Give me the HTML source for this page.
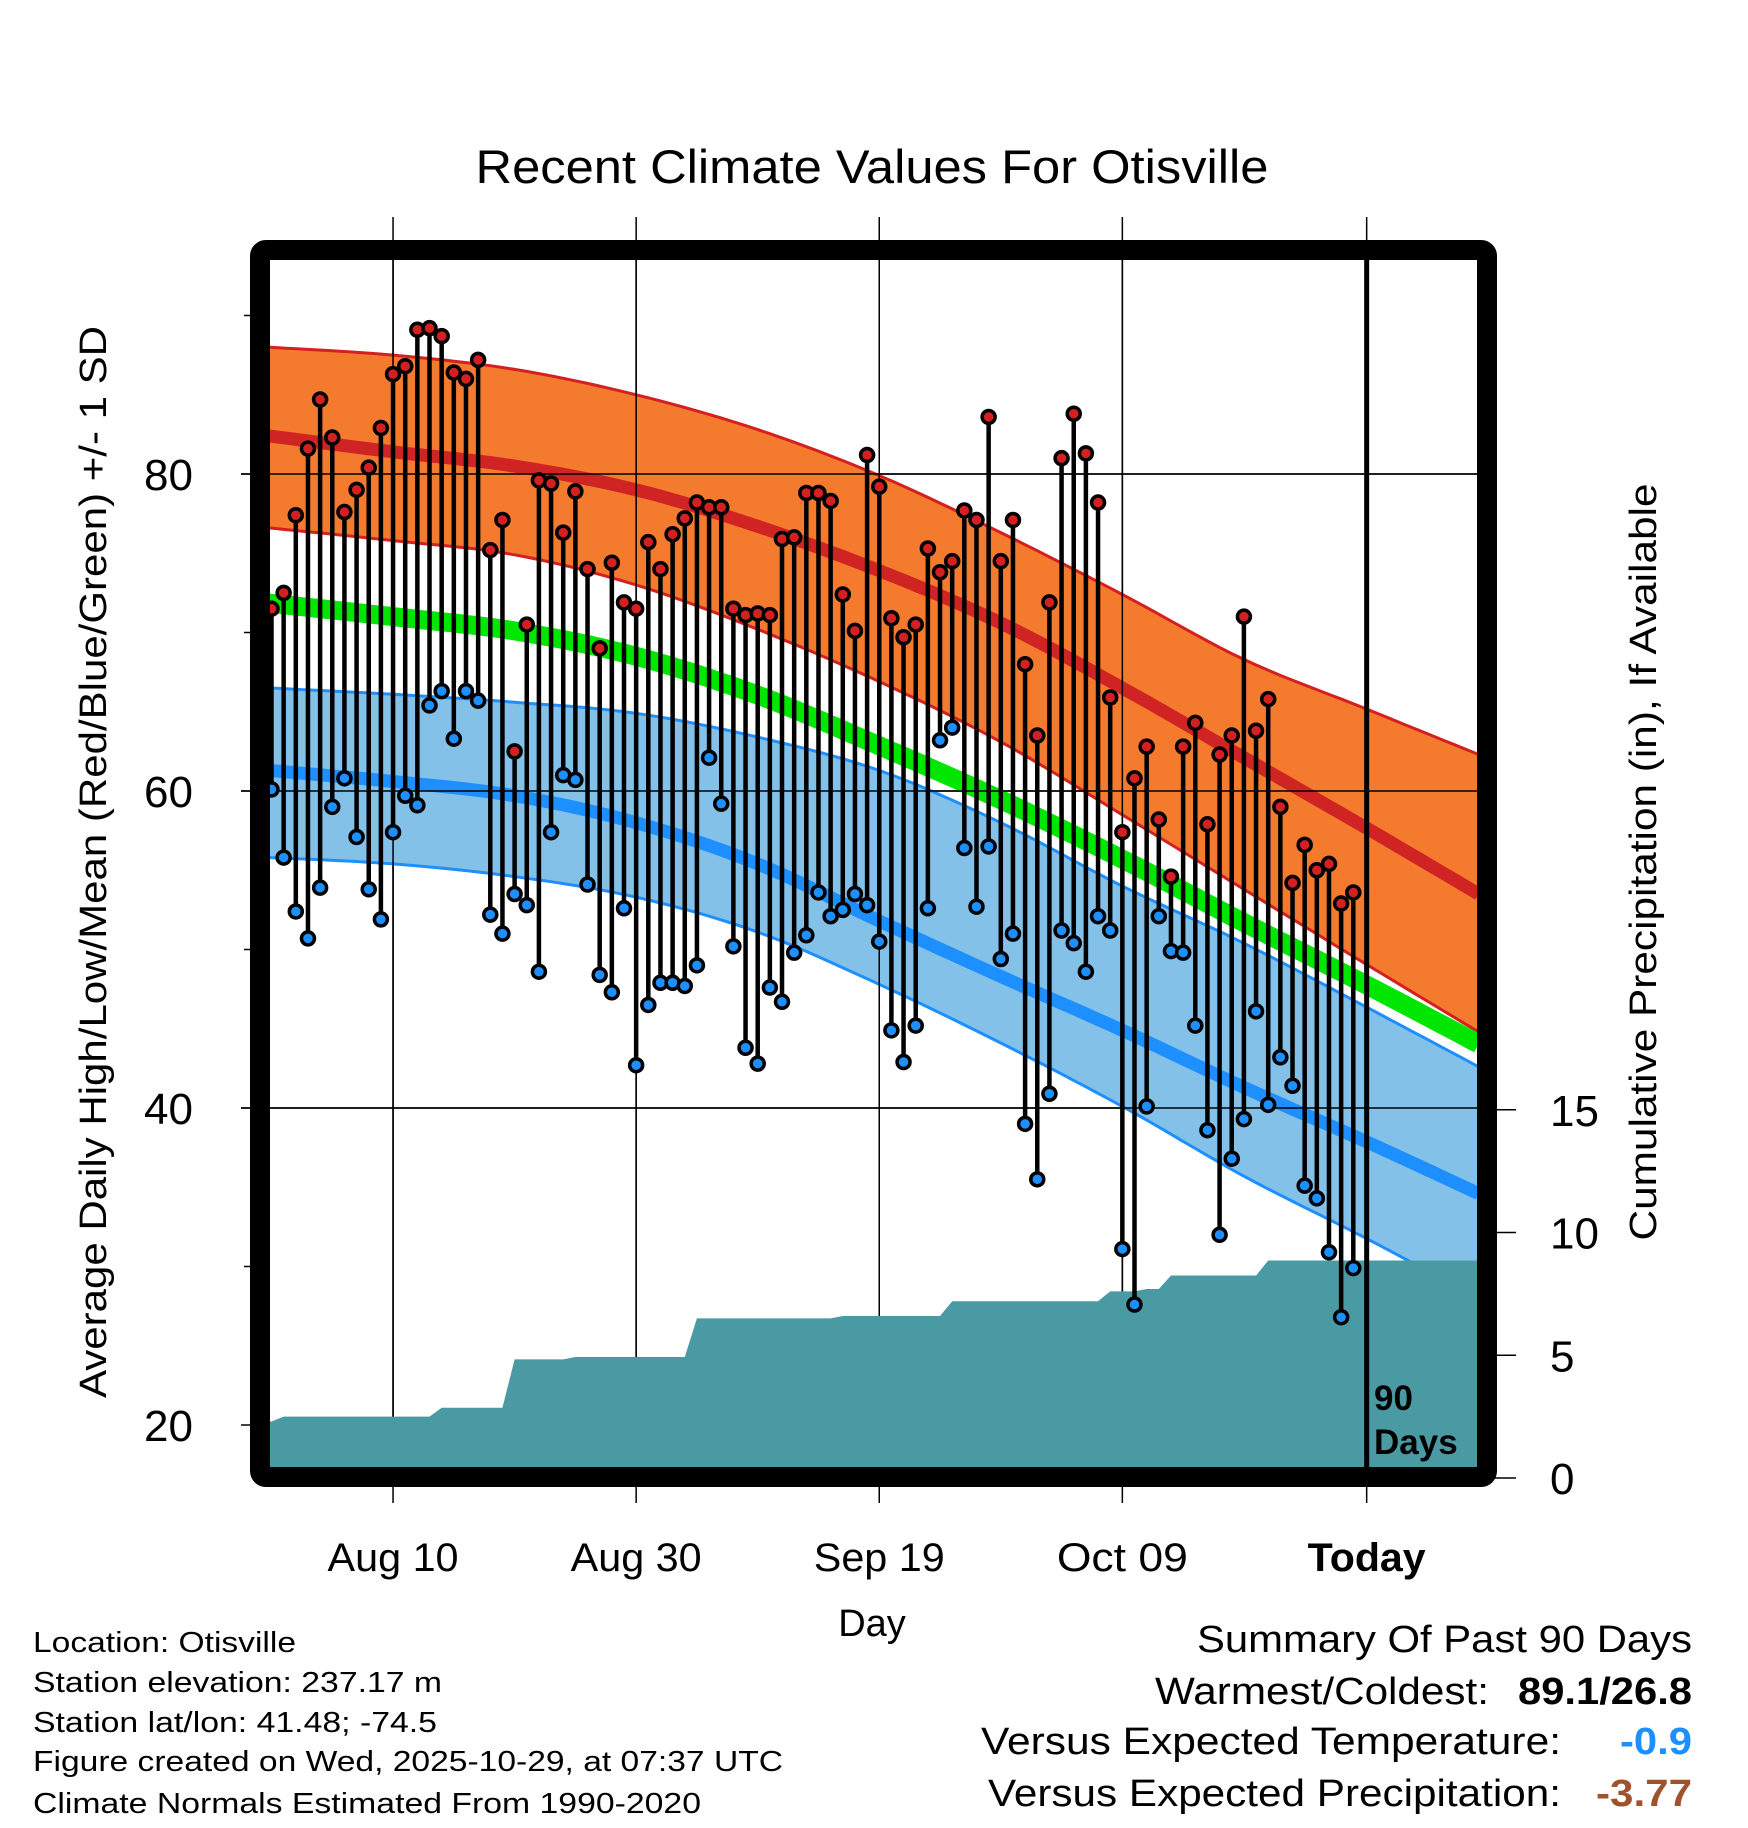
<!DOCTYPE html>
<html><head><meta charset="utf-8"><style>
html,body{margin:0;padding:0;background:#fff;}
svg{display:block;font-family:"Liberation Sans",sans-serif;}
</style></head><body>
<svg id="chart" width="1748" height="1828" viewBox="0 0 1748 1828" xmlns="http://www.w3.org/2000/svg">
<defs><clipPath id="plotclip"><rect x="270" y="260" width="1207" height="1207"/></clipPath></defs>
<rect width="1748" height="1828" fill="#fff"/>
<text x="872" y="183" font-size="47" text-anchor="middle" textLength="793" lengthAdjust="spacingAndGlyphs">Recent Climate Values For Otisville</text>
<g id="grid"></g>
<g id="plot" clip-path="url(#plotclip)"></g>
<g id="axes"></g>
<text transform="translate(106,862) rotate(-90)" font-size="38" text-anchor="middle" textLength="1072" lengthAdjust="spacingAndGlyphs">Average Daily High/Low/Mean (Red/Blue/Green) +/- 1 SD</text>
<text transform="translate(1656,862) rotate(-90)" font-size="38" text-anchor="middle" textLength="757" lengthAdjust="spacingAndGlyphs">Cumulative Precipitation (in), If Available</text>
<text x="872" y="1636" font-size="38" text-anchor="middle">Day</text>
<g font-size="29">
<text x="33" y="1652" textLength="263" lengthAdjust="spacingAndGlyphs">Location: Otisville</text>
<text x="33" y="1692" textLength="409" lengthAdjust="spacingAndGlyphs">Station elevation: 237.17 m</text>
<text x="33" y="1732" textLength="404" lengthAdjust="spacingAndGlyphs">Station lat/lon: 41.48; -74.5</text>
<text x="33" y="1771" textLength="750" lengthAdjust="spacingAndGlyphs">Figure created on Wed, 2025-10-29, at 07:37 UTC</text>
<text x="33" y="1813" textLength="668" lengthAdjust="spacingAndGlyphs">Climate Normals Estimated From 1990-2020</text>
</g>
<g font-size="38">
<text x="1692" y="1652" text-anchor="end" textLength="495" lengthAdjust="spacingAndGlyphs">Summary Of Past 90 Days</text>
<text x="1489" y="1704" text-anchor="end" textLength="334" lengthAdjust="spacingAndGlyphs">Warmest/Coldest:</text>
<text x="1692" y="1704" text-anchor="end" font-weight="bold" textLength="174" lengthAdjust="spacingAndGlyphs">89.1/26.8</text>
<text x="1561" y="1754" text-anchor="end" textLength="580" lengthAdjust="spacingAndGlyphs">Versus Expected Temperature:</text>
<text x="1692" y="1754" text-anchor="end" font-weight="bold" fill="#1e8fff" textLength="72" lengthAdjust="spacingAndGlyphs">-0.9</text>
<text x="1561" y="1806" text-anchor="end" textLength="573" lengthAdjust="spacingAndGlyphs">Versus Expected Precipitation:</text>
<text x="1692" y="1806" text-anchor="end" font-weight="bold" fill="#a0522d" textLength="96" lengthAdjust="spacingAndGlyphs">-3.77</text>
</g>
</svg>
<script>
const highs=[71.5,72.5,77.4,81.6,84.7,82.3,77.6,79.0,80.4,82.9,86.3,86.8,89.1,89.2,88.7,86.4,86.0,87.2,75.2,77.1,62.5,70.5,79.6,79.4,76.3,78.9,74.0,69.0,74.4,71.9,71.5,75.7,74.0,76.2,77.2,78.2,77.9,77.9,71.5,71.1,71.2,71.1,75.9,76.0,78.8,78.8,78.3,72.4,70.1,81.2,79.2,70.9,69.7,70.5,75.3,73.8,74.5,77.7,77.1,83.6,74.5,77.1,68.0,63.5,71.9,81.0,83.8,81.3,78.2,65.9,57.4,60.8,62.8,58.2,54.6,62.8,64.3,57.9,62.3,63.5,71.0,63.8,65.8,59.0,54.2,56.6,55.0,55.4,52.9,53.6];
const lows=[60.1,55.8,52.4,50.7,53.9,59.0,60.8,57.1,53.8,51.9,57.4,59.7,59.1,65.4,66.3,63.3,66.3,65.7,52.2,51.0,53.5,52.8,48.6,57.4,61.0,60.7,54.1,48.4,47.3,52.6,42.7,46.5,47.9,47.9,47.7,49.0,62.1,59.2,50.2,43.8,42.8,47.6,46.7,49.8,50.9,53.6,52.1,52.5,53.5,52.8,50.5,44.9,42.9,45.2,52.6,63.2,64.0,56.4,52.7,56.5,49.4,51.0,39.0,35.5,40.9,51.2,50.4,48.6,52.1,51.2,31.1,27.6,40.1,52.1,49.9,49.8,45.2,38.6,32.0,36.8,39.3,46.1,40.2,43.2,41.4,35.1,34.3,30.9,26.8,29.9];
const precip=[2.3,2.5,2.5,2.5,2.5,2.5,2.5,2.5,2.5,2.5,2.5,2.5,2.5,2.5,2.86,2.86,2.86,2.86,2.86,2.86,4.83,4.83,4.83,4.83,4.83,4.93,4.93,4.93,4.93,4.93,4.93,4.93,4.93,4.93,4.93,6.5,6.5,6.5,6.5,6.5,6.5,6.5,6.5,6.5,6.5,6.5,6.5,6.6,6.6,6.6,6.6,6.6,6.6,6.6,6.6,6.6,7.2,7.2,7.2,7.2,7.2,7.2,7.2,7.2,7.2,7.2,7.2,7.2,7.2,7.6,7.6,7.6,7.7,7.7,8.25,8.25,8.25,8.25,8.25,8.25,8.25,8.25,8.86,8.86,8.86,8.86,8.86,8.86,8.86,8.86];
const normDays=[-0.2,10,20,30,40,50,60,70,80,90,99.3];
const normHigh=[82.4,81.4,80.5,79.0,76.7,73.9,70.6,66.5,62.1,57.7,53.5];
const normHighUp=[88.0,87.5,86.6,85.0,82.8,79.9,76.3,72.4,68.3,65.2,62.3];
const normHighLo=[76.6,75.8,74.9,73.0,70.2,66.9,63.1,58.5,53.8,49.1,44.8];
const normLow=[61.3,60.6,59.7,58.0,55.4,51.8,48.3,44.9,41.3,37.9,34.6];
const normLowUp=[66.5,66.1,65.6,64.9,63.4,61.3,58.0,54.0,50.4,46.4,42.6];
const normLowLo=[55.8,55.4,54.6,53.3,51.1,47.8,44.1,40.1,35.7,31.8,28.0];
const xTickDays=[10,30,50,70,90.1];
const xTickLabels=["Aug 10","Aug 30","Sep 19","Oct 09","Today"];
const yTicks=[80,60,40,20];
const yMinor=[90,70,50,30];
const pTicks=[15,10,5,0];

const NS="http://www.w3.org/2000/svg";
const X=d=>271.5+d*12.155;
const Y=t=>474+(80-t)*15.85;
const YP=p=>1478-p*24.55;
function mk(tag,attrs,parent){const e=document.createElementNS(NS,tag);for(const k in attrs)e.setAttribute(k,attrs[k]);parent.appendChild(e);return e;}
function curve(vals){const pts=[];const n=normDays.length;
 for(let i=0;i<n-1;i++){const p0=vals[Math.max(i-1,0)],p1=vals[i],p2=vals[i+1],p3=vals[Math.min(i+2,n-1)];
  const d0=normDays[Math.max(i-1,0)],d1=normDays[i],d2=normDays[i+1],d3=normDays[Math.min(i+2,n-1)];
  for(let s=0;s<10;s++){const t=s/10;const t2=t*t,t3=t2*t;
   const v=0.5*((2*p1)+(-p0+p2)*t+(2*p0-5*p1+4*p2-p3)*t2+(-p0+3*p1-3*p2+p3)*t3);
   const d=0.5*((2*d1)+(-d0+d2)*t+(2*d0-5*d1+4*d2-d3)*t2+(-d0+3*d1-3*d2+d3)*t3);
   pts.push([X(d),Y(v)]);}}
 pts.push([X(normDays[n-1]),Y(vals[n-1])]);return pts;}
const ps=p=>p.map(q=>q[0].toFixed(1)+","+q[1].toFixed(1)).join(" ");
const grid=document.getElementById('grid'),plot=document.getElementById('plot'),axes=document.getElementById('axes');

xTickDays.forEach((d,i)=>{const g=mk('line',{x1:X(d),x2:X(d),y1:217,y2:1503,stroke:'#000','stroke-width':1.5},grid);

});
[80,60,40].forEach(t=>{const g=mk('line',{x1:241,x2:1477,y1:Y(t),y2:Y(t),stroke:'#000','stroke-width':1.5},grid);

});

function band(up,lo,fill,name){const a=curve(up),b=curve(lo).reverse();
 const e=mk('polygon',{points:ps(a.concat(b)),fill:fill},plot);
 
 }
function line(vals,color,w,name){const e=mk('polyline',{points:ps(curve(vals)),fill:'none',stroke:color,'stroke-width':w},plot);
 
 }
band(normHighUp,normHighLo,'#f47a2e','high-sd-band');
line(normHighUp,'#d42020',3,'high-upper-sd');
line(normHighLo,'#d42020',3,'high-lower-sd');
line(normHigh,'#d02424',13,'normal-high-line');
band(normLowUp,normLowLo,'#84c1e8','low-sd-band');
line(normLowUp,'#1e8fff',3,'low-upper-sd');
line(normLowLo,'#1e8fff',3,'low-lower-sd');
line(normLow,'#1e8fff',13,'normal-low-line');
line(normHigh.map((h,i)=>(h+normLow[i])/2),'#00e600',19,'normal-mean-line');
[80,60,40].forEach(t=>{const g=mk('line',{x1:270,x2:1477,y1:Y(t),y2:Y(t),stroke:'#000','stroke-width':1.5},plot);

});
xTickDays.slice(0,4).forEach(d=>{const g=mk('line',{x1:X(d),x2:X(d),y1:260,y2:1467,stroke:'#000','stroke-width':1.5},plot);

});

let pp=[[268,1480],[268,YP(precip[0])]];
precip.forEach((p,i)=>pp.push([X(i),YP(p)]));
pp.push([1480,YP(precip[precip.length-1])]);pp.push([1480,1480]);
const pr=mk('polygon',{points:ps(pp),fill:'#4a9aa3'},plot);



highs.forEach((h,i)=>{const s=mk('line',{x1:X(i),x2:X(i),y1:Y(h),y2:Y(lows[i]),stroke:'#000','stroke-width':4.5},plot);

});
highs.forEach((h,i)=>{const c=mk('circle',{cx:X(i),cy:Y(h),r:6.5,fill:'#d42020',stroke:'#000','stroke-width':3.5},plot);


const c2=mk('circle',{cx:X(i),cy:Y(lows[i]),r:6.5,fill:'#1e8fff',stroke:'#000','stroke-width':3.5},plot);

});

const tl=mk('line',{x1:X(90.1),x2:X(90.1),y1:260,y2:1467,stroke:'#000','stroke-width':5},plot);


const t90=mk('text',{x:1374,y:1410,'font-size':35,'font-weight':'bold'},plot);t90.textContent='90';


const tdy=mk('text',{x:1374,y:1454,'font-size':35,'font-weight':'bold'},plot);tdy.textContent='Days';



const fr=mk('rect',{x:260,y:250,width:1227,height:1227,rx:6,fill:'none',stroke:'#000','stroke-width':20},axes);



yTicks.forEach(t=>{const k=mk('line',{x1:241,x2:252,y1:Y(t),y2:Y(t),stroke:'#000','stroke-width':1.5},axes);


const l=mk('text',{x:193,y:Y(t)+16,'font-size':44,'text-anchor':'end'},axes);l.textContent=t;

});
yMinor.forEach(t=>{const k=mk('line',{x1:244,x2:252,y1:Y(t),y2:Y(t),stroke:'#000','stroke-width':1.5},axes);

});
pTicks.forEach(p=>{const k=mk('line',{x1:1495,x2:1516,y1:YP(p),y2:YP(p),stroke:'#000','stroke-width':1.5},axes);


const l=mk('text',{x:1550,y:YP(p)+16,'font-size':44},axes);l.textContent=p;

});
xTickDays.forEach((d,i)=>{const l=mk('text',{x:X(d),y:1571,'font-size':40,'text-anchor':'middle','font-weight':i==4?'bold':'normal',textLength:i==4?118:131,lengthAdjust:'spacingAndGlyphs'},axes);
l.textContent=xTickLabels[i];

});
</script>
</body></html>
